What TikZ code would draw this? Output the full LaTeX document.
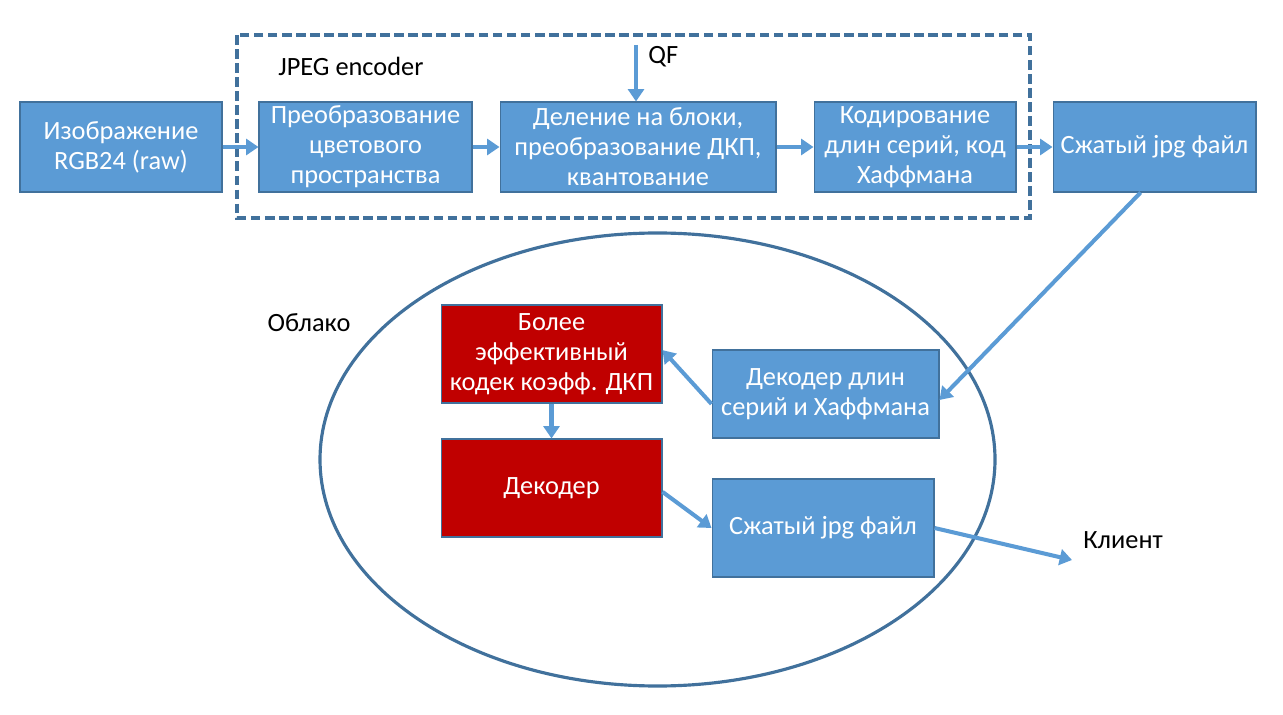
\documentclass[tikz,border=0pt]{standalone}
\usepackage{fontspec}
\setmainfont{Carlito}
\usetikzlibrary{arrows.meta}
\definecolor{boxblue}{HTML}{5B9BD5}
\definecolor{edgeblue}{HTML}{41719C}
\definecolor{boxred}{HTML}{C00000}
\begin{document}
\begin{tikzpicture}[
        x=0.02cm, y=-0.02cm,
        box/.style={
            rectangle,
            draw=edgeblue,
            line width=0.6pt,
            fill=boxblue,
            text=white,
            align=center,
            inner sep=0pt,
            font=\fontsize{15pt}{17pt}\selectfont,
            minimum height=1.8cm
        },
        redbox/.style={
            box,
            fill=boxred,
            minimum width=4.42cm,
            minimum height=1.96cm
        },
        plain/.style={
            text=black,
            inner sep=0pt,
            font=\fontsize{15pt}{17pt}\selectfont
        },
        flow/.style={
            -{Triangle[length=7pt,width=9pt]},
            draw=boxblue,
            line width=2.3pt
        }
    ]
    \useasboundingbox (0,0) rectangle (1283,715);

    % Encoder frame and cloud
    \draw[edgeblue, line width=2.2pt, dash pattern=on 5.5pt off 2.5pt] (237,35) rectangle (1030,218);
    \draw[edgeblue, line width=1.8pt] (657.5,459.5) ellipse [x radius=337.5, y radius=226.5];

    % Main boxes
    \node[box, minimum width=4.04cm] (raw) at (121,147) {Изображение\\RGB24 (raw)};
    \node[box, minimum width=4.26cm] (color) at (365.5,147) {Преобразование\\цветового\\пространства};
    \node[box, minimum width=5.52cm] (dct) at (638,147) {Деление на блоки,\\преобразование ДКП,\\квантование};
    \node[box, minimum width=4.04cm] (rle) at (915,147) {Кодирование\\длин серий, код\\Хаффмана};
    \node[box, minimum width=4.06cm] (jpgtop) at (1154.5,147) {Сжатый jpg файл};

    \node[redbox] (codec) at (551.5,354) {Более\\эффективный\\кодек коэфф. ДКП};
    \node[redbox] (decoder) at (551.5,488) {Декодер};
    \node[box, minimum width=4.54cm, minimum height=1.76cm] (rledec) at (825.5,394) {Декодер длин\\серий и Хаффмана};
    \node[box, minimum width=4.44cm, minimum height=1.96cm] (jpgout) at (823,528) {Сжатый jpg файл};

    % Labels
    \node[plain, anchor=west] (enc) at (278,66) {JPEG encoder};
    \node[plain, anchor=west] (qf) at (648,57) {QF};
    \node[plain] (cloud) at (309,323) {Облако};
    \node[plain, anchor=west] (client) at (1083,540) {Клиент};
    \coordinate (qfstart) at (636,45);
    \coordinate (clientend) at (1072,560);

    % Connections
    \draw[flow] (raw) -- (color);
    \draw[flow] (color) -- (dct);
    \draw[flow] (dct) -- (rle);
    \draw[flow] (rle) -- (jpgtop);
    \draw[flow] (qfstart) -- (qfstart |- dct.north);

    \draw[flow] (jpgtop.253) -- (rledec.-3);
    \draw[flow] (rledec.185) -- (codec.2);
    \draw[flow] (codec) -- (decoder);
    \draw[flow] (decoder.-2) -- (jpgout.west);
    \draw[flow] (jpgout.east) -- (clientend);

\end{tikzpicture}
\end{document}
